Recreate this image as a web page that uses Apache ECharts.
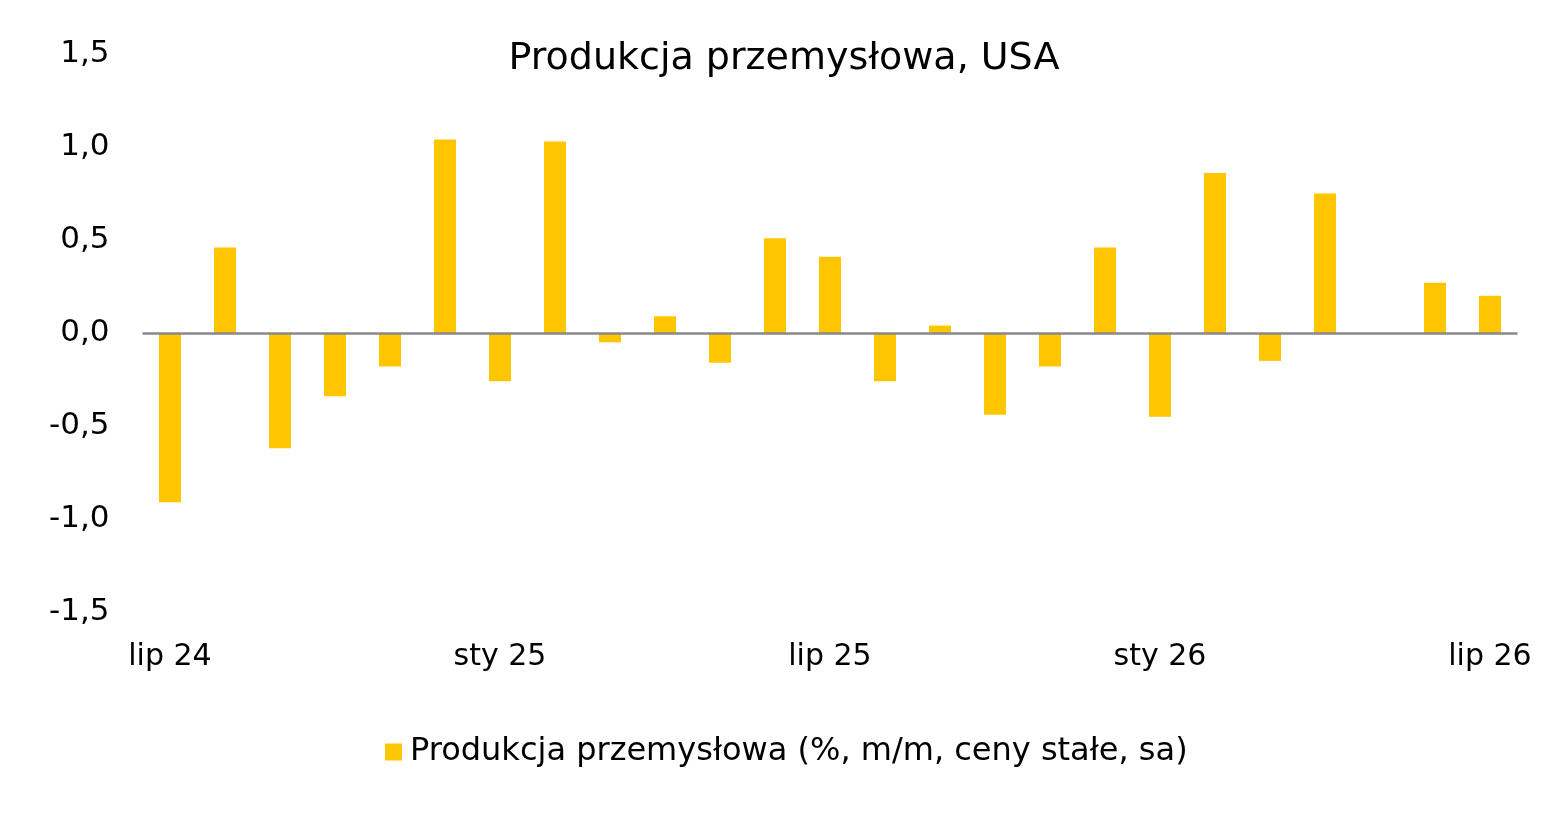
<!DOCTYPE html>
<html>
<head>
<meta charset="utf-8">
<script src="https://cdn.jsdelivr.net/npm/echarts@6/dist/echarts.min.js"></script>
<style>
  html, body { margin: 0; padding: 0; background: #fff; }
  #main { width: 1568px; height: 835px; }
</style>
</head>
<body>
<div id="main"></div>
<script>
var months = ['lip 24', 'sie 24', 'wrz 24', 'paź 24', 'lis 24', 'gru 24',
  'sty 25', 'lut 25', 'mar 25', 'kwi 25', 'maj 25', 'cze 25',
  'lip 25', 'sie 25', 'wrz 25', 'paź 25', 'lis 25', 'gru 25',
  'sty 26', 'lut 26', 'mar 26', 'kwi 26', 'maj 26', 'cze 26', 'lip 26'];
var produkcja = [-0.91, 0.46, -0.62, -0.34, -0.18, 1.04,
  -0.26, 1.03, -0.05, 0.09, -0.16, 0.51,
  0.41, -0.26, 0.04, -0.44, -0.18, 0.46,
  -0.45, 0.86, -0.15, 0.75, '-', 0.27, 0.20];
var seriesName = 'Produkcja przemysłowa (%, m/m, ceny stałe, sa)';

var font = 'DejaVu Sans, Verdana, sans-serif';
var myChart = echarts.init(document.getElementById('main'));

myChart.setOption({
  backgroundColor: '#fff',
  animation: false,
  title: {
    text: 'Produkcja przemysłowa, USA',
    left: 'center',
    top: 35,
    textStyle: { color: '#000', fontFamily: font, fontSize: 38, fontWeight: 'normal' }
  },
  legend: {
    bottom: 62,
    left: 380,
    itemWidth: 17,
    itemHeight: 17,
    icon: 'rect',
    textStyle: { color: '#000', fontFamily: font, fontSize: 32, padding: [0, 0, 0, 3] },
    data: [seriesName]
  },
  grid: { left: 142.5, right: 50.5, top: 54, bottom: 223, containLabel: false },
  xAxis: {
    type: 'category',
    data: months,
    axisLine: { show: false, onZero: false },
    axisTick: { show: false },
    axisLabel: { interval: 5, color: '#000', fontFamily: font, fontSize: 30, margin: 30 }
  },
  yAxis: {
    type: 'value',
    min: -1.5,
    max: 1.5,
    interval: 0.5,
    splitLine: { show: false },
    axisLine: { show: false },
    axisTick: { show: false },
    axisLabel: {
      color: '#000', fontFamily: font, fontSize: 31, margin: 33,
      formatter: function (v) { return v.toFixed(1).replace('.', ','); }
    }
  },
  series: [{
    name: seriesName,
    type: 'bar',
    data: produkcja,
    barWidth: 22,
    itemStyle: { color: '#FFC600' },
    markLine: {
      silent: true,
      symbol: 'none',
      label: { show: false },
      lineStyle: { color: '#888888', width: 2.5, type: 'solid' },
      data: [{ yAxis: 0 }]
    }
  }]
});
</script>
</body>
</html>
